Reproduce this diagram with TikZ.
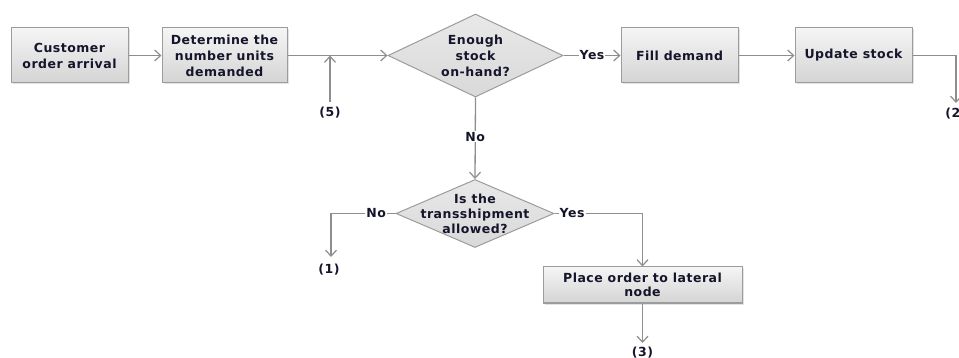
\documentclass[tikz,border=0pt]{standalone}
\usepackage{fontspec}
\setmainfont{DejaVu Sans}[LetterSpace=4]
\usetikzlibrary{arrows.meta,shapes.geometric,shadows}
\definecolor{boxborder}{HTML}{9C9C9C}
\definecolor{boxtop}{HTML}{F5F5F5}
\definecolor{boxbot}{HTML}{D4D4D4}
\definecolor{diafill}{HTML}{D9D9D9}
\definecolor{linecol}{HTML}{8E8E8E}
\definecolor{txtcol}{HTML}{14142A}
\begin{document}
\begin{tikzpicture}[x=1pt,y=-1pt,
  txt/.style={font=\bfseries\fontsize{12.5}{16}\selectfont, text=txtcol},
  box/.style={draw=boxborder, line width=1pt, top color=boxtop, bottom color=boxbot,
    drop shadow={shadow xshift=1.5pt, shadow yshift=-1.5pt, fill=black!22},
    inner sep=0pt, align=center, txt},
  dia/.style={diamond, draw=boxborder, line width=1pt, top color=#1!60!white, bottom color=#1,
    inner sep=0pt},
  conn/.style={draw=linecol, line width=1.3pt, -{Straight Barb[length=6pt,width=11pt,line width=1.2pt]}},
  plain/.style={draw=linecol, line width=1.3pt},
  lbl/.style={txt, fill=white, inner sep=1pt},
  ref/.style={txt, inner sep=0pt}]
\useasboundingbox (0,0) rectangle (959,358);

% boxes
\node[box, minimum width=117pt, minimum height=55pt] (cust) at (69.5,55.5) {Customer\\order arrival};
\node[box, minimum width=125pt, minimum height=55pt] (det) at (224.5,55.5) {Determine the\\number units\\demanded};
\node[box, minimum width=117pt, minimum height=55pt] (fill) at (679.5,55.5) {Fill demand};
\node[box, minimum width=117pt, minimum height=55pt] (upd) at (853.5,55.5) {Update stock};
\node[box, minimum width=199pt, minimum height=36pt, font=\bfseries\fontsize{12.5}{14.5}\selectfont] (place) at (642.5,285) {Place order to lateral\\node};

% diamonds
\node[dia=diafill, minimum width=175pt, minimum height=83pt] (d1) at (475.5,55.5) {};
\node[txt, align=center] at (d1.center) {Enough\\stock\\on-hand?};
\node[dia=diafill, minimum width=158pt, minimum height=68pt] (d2) at (475,213.5) {};
\node[txt, align=center, font=\bfseries\fontsize{12.5}{15}\selectfont] at (d2.center) {Is the\\transshipment\\allowed?};

% helper coordinates
\coordinate (j5) at (330,55.5);
\coordinate (p5) at (330,102);
\coordinate (c2a) at (956,55.5);
\coordinate (c2b) at (956,103);
\coordinate (c1a) at (331,213.5);
\coordinate (c1b) at (331,257);
\coordinate (cya) at (642.5,213.5);
\coordinate (c3b) at (642.5,343);

% connectors
\draw[conn] (cust) -- (det);
\draw[conn] (det) -- (d1.west);
\draw[conn] (p5) -- (j5);
\node[ref] at (330,113) {(5)};
\draw[conn] (d1.east) -- node[lbl, pos=0.5] {Yes} (fill.west);
\draw[conn] (fill) -- (upd);
\draw[conn] (upd.east) -- (c2a) -- (c2b);
\node[ref] at (956,113.5) {(2)};
\draw[conn] (d1.south) -- node[lbl, pos=0.48] {No} (d2.north);
\draw[conn] (d2.west) -- node[lbl, pos=0.3] {No} (c1a) -- (c1b);
\node[ref] at (329,270) {(1)};
\draw[conn] (d2.east) -- node[lbl, pos=0.2] {Yes} (cya) -- (place.north);
\draw[conn] (place.south) -- (c3b);
\node[ref] at (642.5,353) {(3)};
\end{tikzpicture}
\end{document}
